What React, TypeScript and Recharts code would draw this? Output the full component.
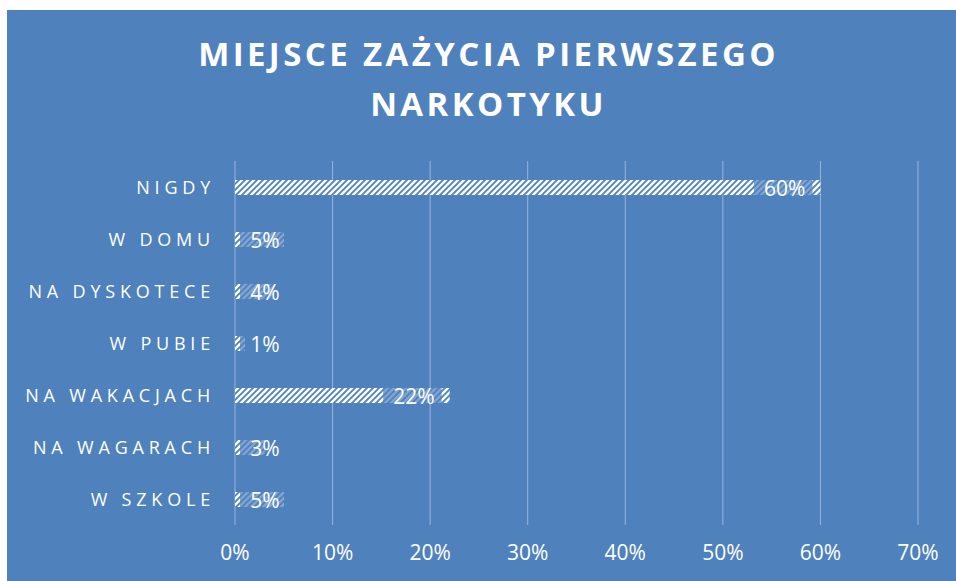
import { Bar, BarChart, CartesianGrid, LabelList, XAxis, YAxis } from 'recharts';

const places = ['NIGDY', 'W DOMU', 'NA DYSKOTECE', 'W PUBIE', 'NA WAKACJACH', 'NA WAGARACH', 'W SZKOLE'];
const shares = [60, 5, 4, 1, 22, 3, 5];
const xTicks = [0, 10, 20, 30, 40, 50, 60, 70];
const titleLines = ['MIEJSCE ZAŻYCIA PIERWSZEGO', 'NARKOTYKU'];

const data = places.map((name, i) => ({ name, value: shares[i] }));

const BG = '#4f81bd';
const FONT = '"Open Sans", sans-serif';

const BarLabel = (props: any) => {
  const { x, y, width, height, value } = props;
  const label = `${value}%`;
  const textW = (label.length - 1) * 12 + 17.5;
  const barEnd = x + width;
  const textRight = Math.max(barEnd - 15, x + 15 + textW);
  const textLeft = textRight - textW;
  const boxL = Math.max(x, textLeft - 10);
  const boxR = Math.min(barEnd, textRight + 7);
  return (
    <g>
      {boxR > boxL && (
        <rect x={boxL} y={y} width={boxR - boxL} height={height} fill={BG} fillOpacity={0.72} />
      )}
      <text
        x={textRight}
        y={y + height / 2}
        textAnchor="end"
        dominantBaseline="central"
        fill="#fff"
        fontSize={21}
        fontFamily={FONT}
      >
        {label}
      </text>
    </g>
  );
};

const PlaceTick = (props: any) => {
  const { x, y, payload } = props;
  return (
    <text
      x={x}
      y={y}
      textAnchor="end"
      dominantBaseline="central"
      fill="#fff"
      fontSize={18}
      letterSpacing={4.8}
      fontFamily={FONT}
    >
      {payload.value}
    </text>
  );
};

export default function App() {
  return (
    <div style={{ position: 'absolute', left: 7, top: 10, width: 949, height: 571, background: BG }}>
      <div
        style={{
          position: 'absolute',
          left: 0,
          top: 19,
          width: 963,
          textAlign: 'center',
          color: '#fff',
          fontFamily: FONT,
          fontWeight: 700,
          fontSize: 33,
          lineHeight: '50px',
          letterSpacing: 3.4,
        }}
      >
        {titleLines.map((t) => (
          <div key={t}>{t}</div>
        ))}
      </div>
      <BarChart
        width={949}
        height={571}
        data={data}
        layout="vertical"
        margin={{ top: 151, right: 38, bottom: 0, left: 0 }}
        barSize={15}
      >
        <defs>
          <pattern id="hatch" patternUnits="userSpaceOnUse" width={6} height={6}>
            <rect width={6} height={6} fill="#fff" />
            <path d="M-1,1 l2,-2 M0,6 l6,-6 M5,7 l2,-2" stroke={BG} strokeWidth={1.8} />
          </pattern>
        </defs>
        <CartesianGrid horizontal={false} stroke="#9ab5dc" strokeWidth={1} />
        <XAxis
          type="number"
          domain={[0, 70]}
          ticks={xTicks}
          tickFormatter={(v) => `${v}%`}
          axisLine={false}
          tickLine={false}
          height={56}
          tickMargin={14}
          tick={{ fill: '#fff', fontSize: 21, fontFamily: FONT }}
          interval={0}
        />
        <YAxis
          type="category"
          dataKey="name"
          axisLine={false}
          tickLine={false}
          width={228}
          tickMargin={14}
          tick={<PlaceTick />}
          interval={0}
        />
        <Bar dataKey="value" fill="url(#hatch)" isAnimationActive={false}>
          <LabelList dataKey="value" content={<BarLabel />} />
        </Bar>
      </BarChart>
    </div>
  );
}
